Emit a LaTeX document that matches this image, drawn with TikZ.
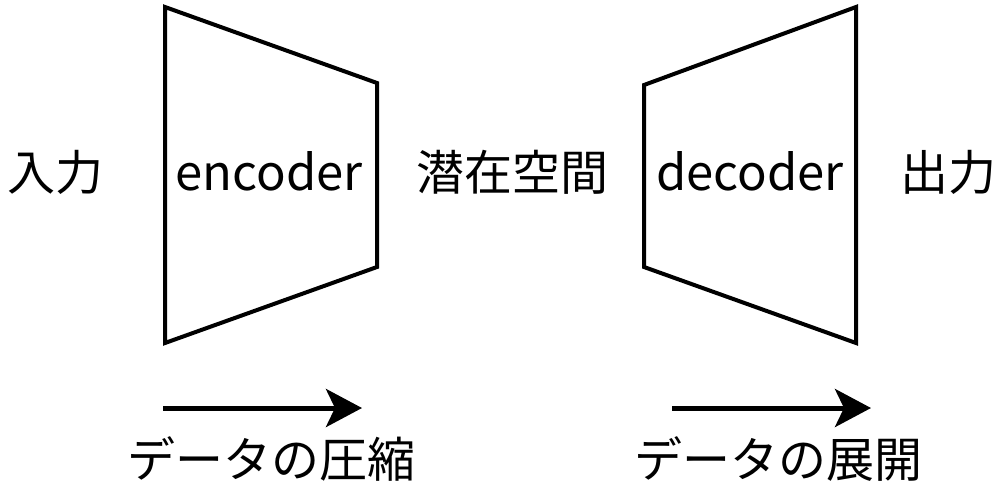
\documentclass[tikz,border=0pt]{standalone}
\usepackage{fontspec}
\setmainfont{Noto Sans CJK JP}
\usetikzlibrary{arrows.meta}
\begin{document}
\begin{tikzpicture}[x=1pt,y=-1pt]
\tikzset{
  trap/.style={line width=4pt, line join=miter},
  lbl/.style={font=\fontsize{48}{58}\selectfont, inner sep=0pt, anchor=base},
  latin/.style={font=\fontsize{49}{60}\selectfont, inner sep=0pt, anchor=base},
  flow/.style={line width=5pt, -{Stealth[length=36pt, width=38pt, inset=9pt]}}
}
\useasboundingbox (0,0) rectangle (1000,498);
% encoder
\coordinate (e1) at (165,7);
\coordinate (e2) at (377,83);
\coordinate (e3) at (377,267);
\coordinate (e4) at (165,343);
\draw[trap] (e1) -- (e2) -- (e3) -- (e4) -- cycle;
% decoder
\coordinate (d1) at (644,85);
\coordinate (d2) at (856,7);
\coordinate (d3) at (856,343);
\coordinate (d4) at (644,267);
\draw[trap] (d1) -- (d2) -- (d3) -- (d4) -- cycle;
% labels
\node[lbl] (in) at (55,190) {入力};
\node[latin] (enc) at (269,190) {encoder};
\node[lbl] (lat) at (512,190) {潜在空間};
\node[latin] (dec) at (750,190) {decoder};
\node[lbl] (out) at (948,190) {出力};
% arrows
\coordinate (a1s) at (163,408);
\coordinate (a1e) at (362,408);
\draw[flow] (a1s) -- (a1e);
\coordinate (a2s) at (672,408);
\coordinate (a2e) at (871,408);
\draw[flow] (a2s) -- (a2e);
\node[lbl] (comp) at (271,477) {データの圧縮};
\node[lbl] (expd) at (778,477) {データの展開};
\end{tikzpicture}
\end{document}
